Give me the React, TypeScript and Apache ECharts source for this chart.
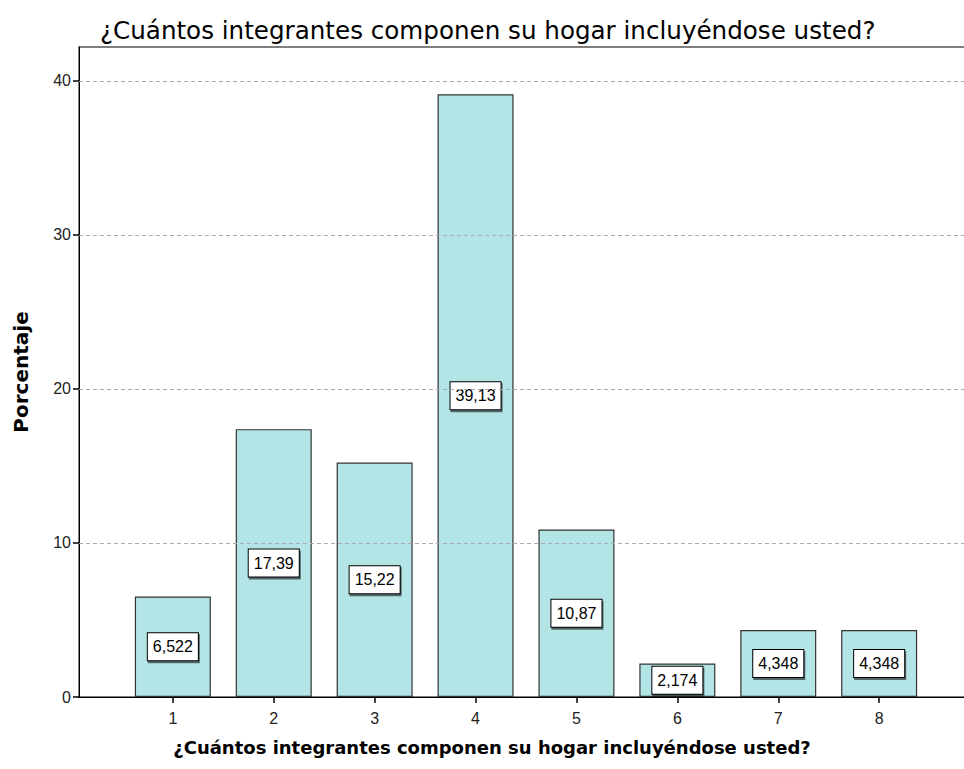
import React, { useEffect, useRef } from "react";
import * as echarts from "echarts";

const titleText = "¿Cuántos integrantes componen su hogar incluyéndose usted?";
const xAxisTitle = "¿Cuántos integrantes componen su hogar incluyéndose usted?";
const yAxisTitle = "Porcentaje";
const categories = [1, 2, 3, 4, 5, 6, 7, 8];
const percentages = [6.522, 17.39, 15.22, 39.13, 10.87, 2.174, 4.348, 4.348];
const yTicks = [0, 10, 20, 30, 40];

export default function App() {
  const ref = useRef<HTMLDivElement>(null);
  useEffect(() => {
    if (!ref.current) return;
    const chart = echarts.init(ref.current, null, { renderer: "svg" });
    chart.setOption({
      animation: false,
      backgroundColor: "#ffffff",
      textStyle: { fontFamily: "Liberation Sans, Arial, sans-serif" },
      title: {
        text: titleText,
        left: 95,
        top: 13,
        textStyle: {
          fontFamily: "DejaVu Sans, sans-serif",
          fontSize: 24.6,
          fontWeight: "normal",
          color: "#000",
        },
      },
      grid: {
        left: 79,
        right: 27,
        top: 47,
        bottom: 72,
        show: true,
        borderColor: "#555",
        borderWidth: 1.5,
        backgroundColor: "transparent",
      },
      xAxis: {
        type: "value",
        min: 0.07,
        max: 8.93,
        name: xAxisTitle,
        nameLocation: "middle",
        nameGap: 41,
        nameTextStyle: {
          fontFamily: "DejaVu Sans, sans-serif",
          fontWeight: "bold",
          fontSize: 18,
          color: "#000",
          padding: [0, 68, 0, 0],
        },
        splitLine: { show: false },
        axisLine: { show: true, onZero: false, lineStyle: { color: "#000", width: 1 } },
        axisTick: {
          show: true,
          customValues: categories,
          length: 6,
          lineStyle: { color: "#000", width: 1.5 },
        },
        axisLabel: {
          customValues: categories,
          color: "#222",
          fontSize: 16,
          margin: 13,
        },
      },
      yAxis: {
        type: "value",
        min: 0,
        max: 42.2,
        interval: 10,
        name: yAxisTitle,
        nameLocation: "middle",
        nameGap: 48,
        nameRotate: 90,
        nameTextStyle: {
          fontFamily: "DejaVu Sans, sans-serif",
          fontWeight: "bold",
          fontSize: 20,
          color: "#000",
        },
        splitLine: { show: false },
        axisLine: { show: true, lineStyle: { color: "#000", width: 1 } },
        axisTick: {
          show: true,
          customValues: yTicks,
          length: 6,
          lineStyle: { color: "#000", width: 1.5 },
        },
        axisLabel: {
          customValues: yTicks,
          color: "#222",
          fontSize: 16,
          margin: 8,
        },
      },
      series: [
        {
          type: "bar",
          data: categories.map((c, i) => [c, percentages[i]]),
          barWidth: 76,
          itemStyle: {
            color: "#b3e5e6",
            borderColor: "#333",
            borderWidth: 1.2,
          },
          label: {
            show: true,
            position: "inside",
            formatter: (p: any) => String(p.value[1].toPrecision(4)).replace(".", ","),
            color: "#000",
            fontSize: 16,
            backgroundColor: "#fff",
            borderColor: "#000",
            borderWidth: 1,
            padding: [6, 5, 5, 5],
            shadowColor: "rgba(0,0,0,0.55)",
            shadowOffsetX: 1,
            shadowOffsetY: 2,
          },
          markLine: {
            silent: true,
            symbol: "none",
            label: { show: false },
            lineStyle: { color: "#aaa", type: [4, 3], width: 1 },
            data: yTicks.filter((t) => t > 0).map((t) => ({ yAxis: t })),
          },
          z: 2,
        },
      ],
    });
    return () => chart.dispose();
  }, []);
  return (
    <div
      ref={ref}
      style={{ position: "fixed", left: 0, top: 0, width: 1000, height: 769 }}
    />
  );
}
